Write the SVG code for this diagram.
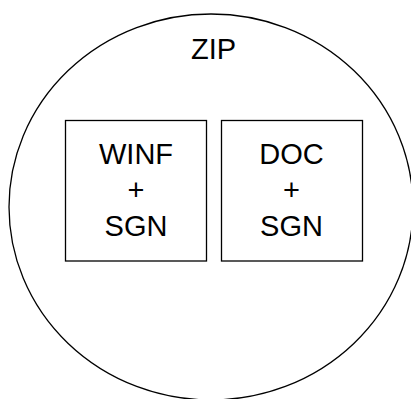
<svg xmlns="http://www.w3.org/2000/svg" width="411" height="399" viewBox="0 0 411 399">
<style>
.shape{fill:#fff;stroke:#000;stroke-width:1.3}
.lbl{font-family:"Liberation Sans",Arial,sans-serif;font-size:29px;fill:#000;text-anchor:middle}
</style>
<rect width="411" height="399" fill="#fff"/>
<g id="zip">
<ellipse class="shape" cx="211" cy="207" rx="202" ry="193"/>
<text class="lbl" x="213.5" y="59">ZIP</text>
</g>
<g id="winf">
<rect class="shape" x="65.5" y="120.5" width="141" height="140.5"/>
<text class="lbl" x="136" y="164">WINF</text>
<text class="lbl" x="136" y="200">+</text>
<text class="lbl" x="136" y="236">SGN</text>
</g>
<g id="doc">
<rect class="shape" x="221.5" y="120.5" width="141" height="140.5"/>
<text class="lbl" x="291.5" y="164">DOC</text>
<text class="lbl" x="291.5" y="200">+</text>
<text class="lbl" x="291.5" y="236">SGN</text>
</g>
<g id="connectors"></g>
</svg>
